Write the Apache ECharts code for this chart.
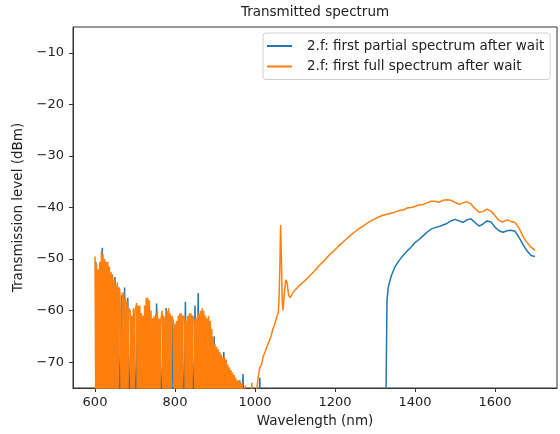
<!DOCTYPE html>
<html>
<head>
<meta charset="utf-8">
<script src="https://cdn.jsdelivr.net/npm/echarts@6/dist/echarts.min.js"></script>
<style>
html,body{margin:0;padding:0;background:#fff;}
#chart{width:560px;height:434px;}
</style>
</head>
<body>
<div id="chart"></div>
<script>
// ---- data ----
const seriesNames = ['2.f: first partial spectrum after wait', '2.f: first full spectrum after wait'];
const xTicks = [600, 800, 1000, 1200, 1400, 1600];
const yTicks = [-70, -60, -50, -40, -30, -20, -10];

// partial spectrum (blue)
const partialNm = [
  602,606,610,614,618,622,626,630,634,638,642,646,650,654,658,662,666,670,674,678,
  682,686,690,694,698,702,706,710,714,718,722,726,730,734,738,742,746,750,754,758,
  762,766,770,774,778,782,786,790,794,798,802,806,810,814,818,822,826,830,834,838,
  842,846,850,854,858,862,866,870,874,878,882,886,890,894,898,902,906,910,914,918,
  922,926,930,934,938,942,946,950,954,958,962,966,970,974,978,982,986,990,994,998,
  1009,1012,1015,1036,1039,1042,1326,
  1330,1333,1338,1342,1350,1360,1370,1380,1390,1400,1410,1420,1430,1440,1450,1460,1470,1480,1490,1500,
  1510,1520,1530,1540,1550,1560,1570,1580,1590,1600,1610,1620,1630,1640,1650,1660,1670,1680,1690,1700
];
const partialDbm = [
  -50.5,-85,-52,-85,-47.8,-85,-50.5,-85,-51.5,-85,-53,-85,-53.5,-85,-55.5,-85,-57,-85,-55.5,-85,
  -57.5,-85,-61,-85,-60.5,-85,-60,-85,-60.5,-85,-61.5,-85,-59,-85,-60,-85,-62,-85,-58.6,-85,
  -62,-85,-61.5,-85,-59.5,-85,-61,-85,-62,-85,-63,-85,-62,-85,-62,-85,-58.3,-85,-62,-85,
  -61,-85,-59,-85,-56.6,-85,-61,-85,-62,-85,-63,-85,-64.5,-85,-65,-85,-68,-85,-69,-85,
  -68,-85,-70.5,-85,-71.5,-85,-73,-85,-74,-85,-73.5,-85,-72.3,-85,-76,-85,-77,-85,-76,-85,
  -85,-73,-85,-85,-75,-85,-88,
  -58,-55.5,-54,-53,-51.5,-50.3,-49.3,-48.5,-47.7,-46.8,-46.2,-45.5,-44.8,-44.2,-43.9,-43.7,-43.4,-43.1,-42.6,-42.3,
  -42.6,-42.9,-42.4,-42.2,-42.9,-43.6,-43.2,-42.6,-42.8,-43.8,-44.5,-44.8,-44.5,-44.4,-44.6,-45.8,-47.2,-48.4,-49.3,-49.5
];

// full spectrum (orange)
const fullNm = [
  600,602,604,606,608,610,612,614,616,618,620,622,624,626,628,630,632,634,636,638,
  640,642,644,646,648,650,652,654,656,658,660,662,664,666,668,670,672,674,676,678,
  680,682,684,686,688,690,692,694,696,698,700,702,704,706,708,710,712,714,716,718,
  720,722,724,726,728,730,732,734,736,738,740,742,744,746,748,750,752,754,756,758,
  760,762,764,766,768,770,772,774,776,778,780,782,784,786,788,790,792,794,796,798,
  800,802,804,806,808,810,812,814,816,818,820,822,824,826,828,830,832,834,836,838,
  840,842,844,846,848,850,852,854,856,858,860,862,864,866,868,870,872,874,876,878,
  880,882,884,886,888,890,892,894,896,898,900,902,904,906,908,910,912,914,916,918,
  920,922,924,926,928,930,932,934,936,938,940,942,944,946,948,950,952,954,956,958,
  960,962,964,966,968,970,972,974,976,978,980,982,984,986,988,990,992,994,996,998,
  1004,1008,1012,1016,1020,1025,1030,1035,1040,1045,1050,1055,1058,1060,1062,1064,1066,1068,1070,1073,
  1077,1080,1084,1088,1095,1100,1110,1120,1130,1140,1150,1160,1170,1180,1190,1200,1210,1220,1230,1240,
  1250,1260,1270,1280,1290,1300,1310,1320,1330,1340,1350,1360,1370,1380,1390,1400,1410,1420,1430,1440,
  1450,1460,1470,1480,1490,1500,1510,1520,1530,1540,1550,1560,1570,1580,1590,1600,1610,1620,1630,1640,
  1650,1660,1670,1680,1690,1700
];
const fullDbm = [
  -49.5,-80,-51,-80,-52,-80,-50.5,-80,-48.5,-80,-49,-80,-50,-80,-50.5,-80,-50.5,-80,-51.5,-80,
  -52.5,-80,-53,-80,-54,-80,-55,-80,-54.5,-80,-55.5,-56,-56,-80,-56.5,-80,-56.5,-80,-57.5,-80,
  -58,-80,-59.5,-59.8,-60,-80,-61,-80,-59.5,-80,-60,-59.5,-58.5,-80,-59,-80,-59,-80,-60.5,-80,
  -61,-80,-59,-80,-57.5,-80,-57.5,-80,-58,-80,-60,-80,-61.5,-80,-61,-80,-60.5,-80,-60,-80,
  -61.5,-80,-62,-61,-60,-80,-61,-80,-61.5,-80,-60,-80,-59.5,-80,-60.5,-80,-61,-61.5,-62,-80,
  -62.5,-80,-62,-80,-61,-80,-60.5,-80,-60.5,-80,-61,-61.2,-61.5,-80,-62,-80,-61,-80,-60.5,-80,
  -60.5,-80,-61,-61.5,-62,-80,-61.5,-80,-61,-80,-60.5,-80,-60,-80,-59.5,-80,-60,-80,-61,-80,
  -61.5,-80,-61,-80,-62,-80,-63.5,-80,-65,-80,-66.5,-80,-67,-80,-67.5,-80,-68,-80,-68.5,-80,
  -69,-80,-69,-80,-69.5,-80,-70.5,-80,-71,-80,-71.5,-80,-72,-80,-72.5,-80,-73,-80,-73.5,-80,
  -73.5,-80,-74,-80,-74,-80,-75.5,-80,-74.5,-80,-76,-80,-75.5,-80,-76,-80,-74,-80,-76,-80,
  -75.5,-73,-71,-70.5,-69,-68,-67,-66,-65,-63.5,-62.5,-61,-60.5,-58,-52,-43.4,-50,-58,-60,-57,
  -54,-54.5,-57,-57.5,-56.5,-56,-55.2,-54.5,-53.8,-53,-52.2,-51.3,-50.5,-49.7,-48.9,-48.2,-47.4,-46.7,-46,-45.3,
  -44.7,-44.1,-43.6,-43.1,-42.6,-42.2,-41.8,-41.5,-41.3,-41.1,-40.9,-40.6,-40.5,-40.1,-40,-39.8,-39.5,-39.4,-39.1,-38.8,
  -38.8,-39,-38.6,-38.5,-38.6,-39,-39.4,-39.1,-38.9,-39.3,-40.2,-40.9,-40.8,-40.3,-40.7,-41.6,-42.5,-42.8,-42.4,-42.7,
  -42.9,-44,-45.6,-46.8,-47.7,-48.3
];

// ---- chart ----
function pairs(xs, ys) { return xs.map((x, i) => [x, ys[i]]); }

const FONT = 'DejaVu Sans';
const TXT = '#222';
const chart = echarts.init(document.getElementById('chart'), null, { renderer: 'canvas' });
chart.setOption({
  animation: false,
  backgroundColor: '#fff',
  title: {
    text: 'Transmitted spectrum',
    left: 315, top: 5, textAlign: 'center', padding: 0,
    textStyle: { fontFamily: FONT, fontSize: 13.5, fontWeight: 'normal', color: TXT }
  },
  grid: {
    left: 73, right: 3, top: 27, bottom: 46,
    show: true, borderColor: '#333', borderWidth: 1, backgroundColor: 'transparent'
  },
  legend: {
    orient: 'vertical',
    left: 263, top: 33,
    padding: [5, 6, 5, 4],
    itemGap: 4.5,
    itemWidth: 25, itemHeight: 2,
    icon: 'rect',
    backgroundColor: '#fff',
    borderColor: '#d0d0d0', borderWidth: 1, borderRadius: 3,
    textStyle: { fontFamily: FONT, fontSize: 13.5, lineHeight: 16, color: TXT, padding: [0, 0, 0, 10] },
    data: seriesNames
  },
  xAxis: {
    type: 'value', min: 545, max: 1755,
    name: 'Wavelength (nm)', nameLocation: 'middle', nameGap: 26,
    nameTextStyle: { fontFamily: FONT, fontSize: 13.5, color: TXT },
    axisLine: { show: true, lineStyle: { color: '#333', width: 1 } },
    axisTick: { show: true, inside: false, length: 4, lineStyle: { color: '#333' }, customValues: xTicks },
    axisLabel: { fontFamily: FONT, fontSize: 13, color: TXT, margin: 8, customValues: xTicks,
      formatter: v => String(v) },
    splitLine: { show: false }
  },
  yAxis: {
    type: 'value', min: -75, max: -5,
    name: 'Transmission level (dBm)', nameLocation: 'middle', nameGap: 45,
    nameTextStyle: { fontFamily: FONT, fontSize: 13.5, color: TXT },
    axisLine: { show: true, lineStyle: { color: '#333', width: 1 } },
    axisTick: { show: true, inside: false, length: 4, lineStyle: { color: '#333' }, customValues: yTicks },
    axisLabel: { fontFamily: FONT, fontSize: 13, color: TXT, margin: 9, customValues: yTicks,
      formatter: v => String(v).replace('-', '\u2212') },
    splitLine: { show: false }
  },
  series: [
    {
      name: seriesNames[0], type: 'line', showSymbol: false, symbol: 'none',
      data: pairs(partialNm, partialDbm),
      lineStyle: { color: '#1f77b4', width: 1.5 }, itemStyle: { color: '#1f77b4' },
      clip: true, z: 2
    },
    {
      name: seriesNames[1], type: 'line', showSymbol: false, symbol: 'none',
      data: pairs(fullNm, fullDbm),
      lineStyle: { color: '#ff7f0e', width: 1.5 }, itemStyle: { color: '#ff7f0e' },
      clip: true, z: 3
    }
  ]
});
</script>
</body>
</html>
